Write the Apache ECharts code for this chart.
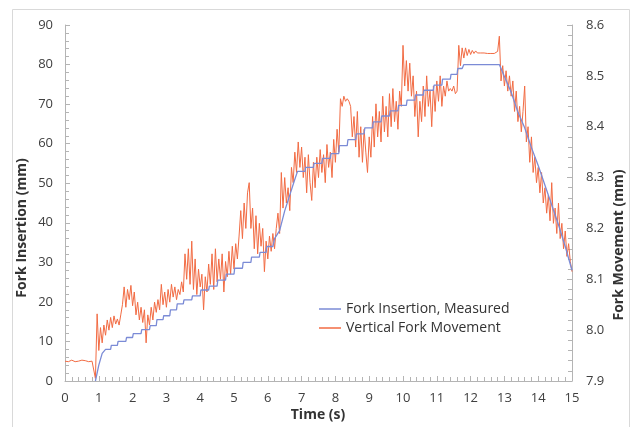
<!DOCTYPE html>
<html>
<head>
<meta charset="utf-8">
<script src="https://cdn.jsdelivr.net/npm/echarts@6/dist/echarts.min.js"></script>
<style>
  html, body { margin: 0; padding: 0; background: #fff; }
  #main { width: 632px; height: 427px; }
</style>
</head>
<body>
<div id="main"></div>
<script>
// x axis ticks (s), left axis (mm), right axis (mm)
const timeTicks = [0, 15, 1];
const insertionTicks = [0, 90, 10];
const movementTicks = [7.9, 8.6, 0.1];

// Fork Insertion, Measured (left axis) - stair steps
const insertionTime = [0.9, 1.0, 1.1, 1.2, 1.35, 1.37, 1.55, 1.57, 1.8, 1.82, 2.0, 2.02, 2.25, 2.27, 2.5, 2.52, 2.7, 2.72, 2.9,
  2.92, 3.1, 3.12, 3.3, 3.32, 3.5, 3.52, 3.75, 3.77, 4.0, 4.02, 4.25, 4.27, 4.5, 4.52, 4.75, 4.77, 5.0, 5.02, 5.25,
  5.27, 5.5, 5.52, 5.75, 5.77, 5.95, 5.97, 6.15, 6.2, 6.35, 6.5, 6.65, 6.8, 6.88, 7.1, 7.12, 7.35, 7.37, 7.6, 7.62,
  7.85, 7.87, 8.1, 8.12, 8.35, 8.37, 8.6, 8.62, 8.85, 8.87, 9.1, 9.12, 9.35, 9.37, 9.6, 9.62, 9.85, 9.87, 10.1, 10.12,
  10.35, 10.37, 10.6, 10.62, 10.9, 10.92, 11.15, 11.17, 11.4, 11.42, 11.6, 11.62, 11.75, 11.8, 12.85, 13.0, 13.2, 13.4, 13.6, 13.8,
  14.0, 14.2, 14.4, 14.6, 14.8, 15.0];
const insertionValue = [0, 4, 7, 8, 8, 9, 9, 10, 10, 11, 11, 12, 12, 13, 13, 14, 14, 15.5, 15.5,
  16.5, 16.5, 18, 18, 19.5, 19.5, 20.5, 20.5, 21.5, 21.5, 23, 23, 24, 24, 25.5, 25.5, 27, 27, 28.5, 28.5,
  30, 30, 31.3, 31.3, 32.5, 32.5, 34, 34, 36, 38, 43, 47, 51, 53, 53, 54, 54, 55, 55, 56.3,
  56.3, 57.5, 57.5, 59.5, 59.5, 61, 61, 62.5, 62.5, 64, 64, 65.5, 65.5, 67, 67, 68.3, 68.3, 69.7, 69.7, 71,
  71, 72.3, 72.3, 73.5, 73.5, 74.8, 74.8, 76.3, 76.3, 77.5, 77.5, 79, 79, 80, 80, 77, 73, 68, 64, 59,
  54.5, 49.5, 44.5, 39.5, 34, 28];

// Vertical Fork Movement (right axis), one reading every 0.05 s from 0 s, one row per second
const movementStep = 0.05;
const movementValue = [
  7.939, 7.940, 7.938, 7.939, 7.941, 7.939, 7.938, 7.940, 7.939, 7.939, 7.941, 7.938, 7.940, 7.939, 7.938, 7.940, 7.939, 7.939, 7.905, 8.032,
  7.960, 8.005, 7.975, 8.010, 7.990, 8.020, 8.000, 8.025, 8.005, 8.028, 8.012, 8.022, 8.010, 8.030, 8.050, 8.085, 8.045, 8.080, 8.060, 8.088,
  8.048, 8.075, 8.030, 8.055, 8.020, 8.045, 8.015, 8.040, 7.975, 8.030, 8.010, 8.045, 8.020, 8.055, 8.035, 8.060, 8.040, 8.090, 8.050, 8.075,
  8.045, 8.080, 8.055, 8.090, 8.065, 8.085, 8.060, 8.080, 8.070, 8.095, 8.075, 8.150, 8.100, 8.160, 8.090, 8.175, 8.080, 8.140, 8.070, 8.120,
  8.085, 8.110, 8.040, 8.105, 8.075, 8.130, 8.090, 8.150, 8.080, 8.160, 8.095, 8.140, 8.100, 8.150, 8.075, 8.135, 8.105, 8.155, 8.110, 8.165,
  8.120, 8.170, 8.140, 8.185, 8.235, 8.180, 8.250, 8.200, 8.270, 8.290, 8.200, 8.240, 8.160, 8.225, 8.150, 8.210, 8.165, 8.200, 8.115, 8.175,
  8.140, 8.185, 8.155, 8.190, 8.160, 8.200, 8.230, 8.190, 8.310, 8.240, 8.300, 8.250, 8.280, 8.235, 8.320, 8.290, 8.350, 8.310, 8.370, 8.320,
  8.360, 8.300, 8.340, 8.270, 8.345, 8.290, 8.255, 8.330, 8.280, 8.340, 8.300, 8.355, 8.310, 8.345, 8.290, 8.365, 8.320, 8.350, 8.300, 8.375,
  8.330, 8.395, 8.350, 8.455, 8.440, 8.460, 8.450, 8.455, 8.450, 8.440, 8.380, 8.420, 8.360, 8.430, 8.340, 8.400, 8.330, 8.395, 8.350, 8.310,
  8.380, 8.340, 8.420, 8.360, 8.445, 8.380, 8.430, 8.370, 8.460, 8.390, 8.440, 8.380, 8.465, 8.400, 8.475, 8.410, 8.450, 8.395, 8.470, 8.440,
  8.560, 8.480, 8.530, 8.470, 8.525, 8.460, 8.500, 8.420, 8.470, 8.380, 8.450, 8.410, 8.480, 8.420, 8.500, 8.440, 8.470, 8.400, 8.480, 8.430,
  8.490, 8.450, 8.500, 8.440, 8.480, 8.460, 8.490, 8.470, 8.475, 8.470, 8.480, 8.465, 8.470, 8.560, 8.520, 8.555, 8.535, 8.555, 8.540, 8.552,
  8.542, 8.550, 8.544, 8.549, 8.545, 8.548, 8.545, 8.547, 8.545, 8.546, 8.544, 8.545, 8.544, 8.545, 8.544, 8.545, 8.548, 8.578, 8.490, 8.520,
  8.480, 8.510, 8.470, 8.500, 8.460, 8.490, 8.430, 8.470, 8.410, 8.440, 8.390, 8.430, 8.480, 8.370, 8.400, 8.330, 8.380, 8.310, 8.340, 8.290,
  8.320, 8.270, 8.310, 8.250, 8.280, 8.230, 8.265, 8.215, 8.290, 8.210, 8.240, 8.190, 8.250, 8.180, 8.210, 8.160, 8.195, 8.145, 8.170, 8.135,
  8.115
];

const seriesNames = ['Fork Insertion, Measured', 'Vertical Fork Movement'];
const axisTitles = ['Time (s)', 'Fork Insertion (mm)', 'Fork Movement (mm)'];

const font = '"Open Sans", "Noto Sans", sans-serif';
const axisGrey = '#b4b4b4';
const labelColor = '#404040';

const insertionData = insertionTime.map((t, i) => [t, insertionValue[i]]);
const movementData = movementValue.map((v, i) => [+(i * movementStep).toFixed(2), v]);

function axisLook(pos) {
  return {
    axisLine: { show: true, lineStyle: { color: axisGrey, width: 1 } },
    axisTick: { show: true, inside: true, length: 5, lineStyle: { color: axisGrey } },
    minorTick: { show: true, splitNumber: 5, length: 4, lineStyle: { color: axisGrey } },
    splitLine: { show: false },
    axisLabel: { color: labelColor, fontFamily: font, fontSize: 13, margin: pos === 'x' ? 11 : 12 }
  };
}

var myChart = echarts.init(document.getElementById('main'));

var option = {
  animation: false,
  backgroundColor: '#fff',
  grid: { left: 65, right: 60, top: 25, bottom: 46 },
  legend: {
    data: seriesNames,
    orient: 'vertical',
    left: 314,
    top: 296,
    icon: 'rect',
    itemWidth: 22,
    itemHeight: 1.5,
    itemGap: 3,
    textStyle: { color: '#333', fontFamily: font, fontSize: 14, lineHeight: 16 }
  },
  xAxis: Object.assign({
    type: 'value',
    min: timeTicks[0], max: timeTicks[1], interval: timeTicks[2]
  }, axisLook('x')),
  yAxis: [
    Object.assign({
      type: 'value', position: 'left',
      min: insertionTicks[0], max: insertionTicks[1], interval: insertionTicks[2]
    }, axisLook('y')),
    Object.assign({
      type: 'value', position: 'right',
      min: movementTicks[0], max: movementTicks[1], interval: movementTicks[2]
    }, axisLook('y'), {
      axisLabel: { color: labelColor, fontFamily: font, fontSize: 13, margin: 14,
        formatter: v => v.toFixed(1) }
    })
  ],
  graphic: [
    { type: 'rect', left: 10, top: 7, shape: { width: 617, height: 418 }, silent: true,
      style: { fill: 'none', stroke: '#d9d9d9', lineWidth: 1 } },
    { type: 'text', x: 318, y: 415, silent: true,
      style: { text: axisTitles[0], fill: '#333', font: 'bold 14px ' + font, align: 'center', verticalAlign: 'middle' } },
    { type: 'text', x: 22, y: 228, rotation: Math.PI / 2, silent: true,
      style: { text: axisTitles[1], fill: '#333', font: 'bold 14px ' + font, align: 'center', verticalAlign: 'middle' } },
    { type: 'text', x: 619, y: 245, rotation: Math.PI / 2, silent: true,
      style: { text: axisTitles[2], fill: '#333', font: 'bold 14px ' + font, align: 'center', verticalAlign: 'middle' } }
  ],
  series: [
    {
      name: seriesNames[1], type: 'line', yAxisIndex: 1, data: movementData,
      showSymbol: false, symbol: 'none', z: 2,
      itemStyle: { color: '#f26b43' },
      lineStyle: { color: '#f26b43', width: 1 }
    },
    {
      name: seriesNames[0], type: 'line', yAxisIndex: 0, data: insertionData,
      showSymbol: false, symbol: 'none', z: 3,
      itemStyle: { color: '#7b8bd6' },
      lineStyle: { color: '#7b8bd6', width: 1.3 }
    }
  ]
};

myChart.setOption(option);
</script>
</body>
</html>
